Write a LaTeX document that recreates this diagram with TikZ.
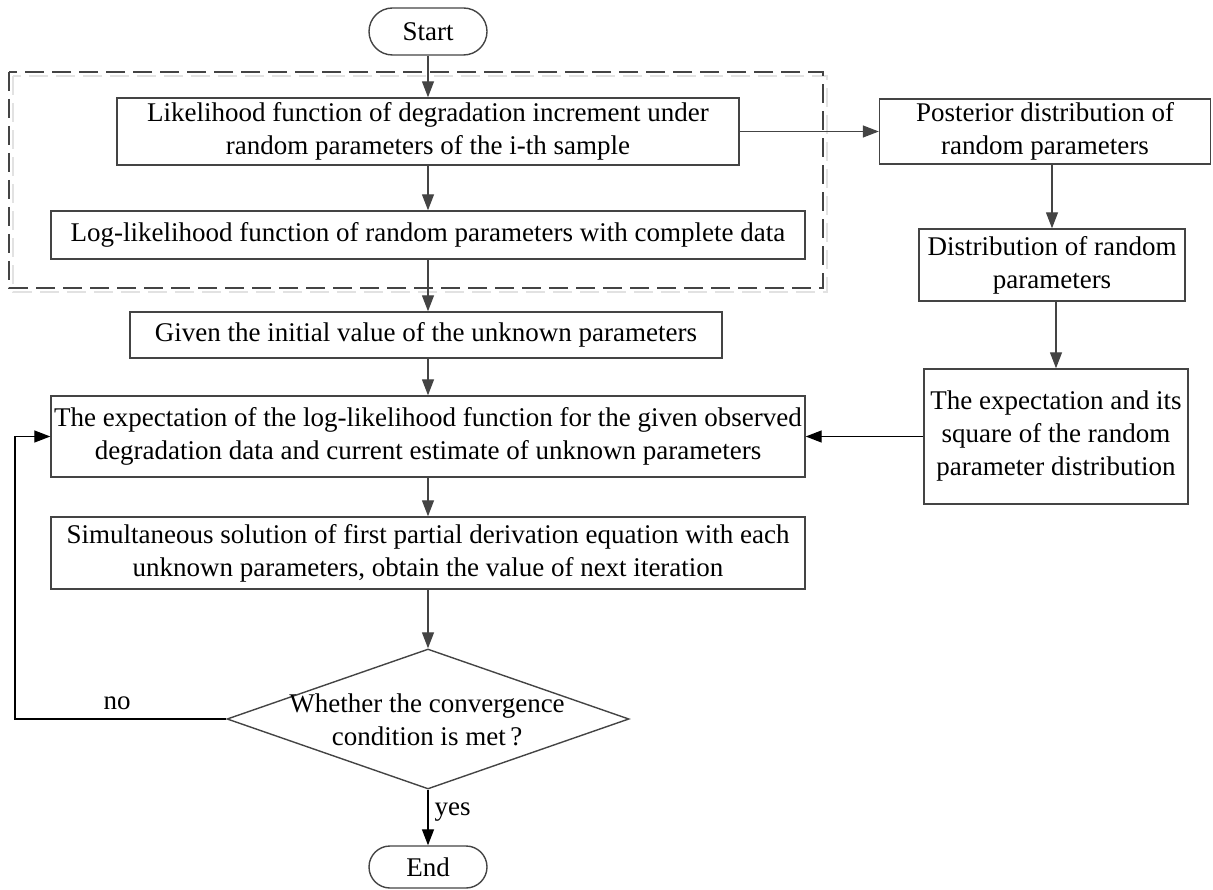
\documentclass[tikz,border=0pt]{standalone}
\usepackage{fontspec}
\setmainfont{Liberation Serif}
\usetikzlibrary{arrows.meta,shapes.geometric,shapes.misc}
\definecolor{edge}{HTML}{444444}
\definecolor{shadowgray}{HTML}{E2E2E2}
\begin{document}
\begin{tikzpicture}[x=1pt,y=-1pt,
  every node/.style={font=\fontsize{27}{33}\selectfont, text=black},
  box/.style={draw=edge, line width=1.4pt, rectangle, inner sep=0pt, align=center},
  term/.style={draw=edge, line width=1.4pt, rounded rectangle, inner sep=0pt, minimum width=118pt},
  dec/.style={draw=edge, line width=1.4pt, diamond, inner sep=0pt},
  link/.style={draw=edge, line width=1.3pt, -{Triangle[length=16pt,width=12pt]}},
  loopline/.style={draw=black, line width=1.3pt, -{Triangle[length=16pt,width=12pt]}},
  lbl/.style={font=\fontsize{27}{33}\selectfont}
]
\useasboundingbox (0,0) rectangle (1213,890);
% dashed group with soft shadow
\draw[shadowgray, line width=2.6pt, dash pattern=on 19pt off 8pt] (13,76) rectangle (827,292);
\draw[edge, line width=2.6pt, dash pattern=on 19pt off 8pt] (9,72) rectangle (823,288);

\node[term, minimum height=47pt] (start) at (428,31.5) {Start};
\node[box, minimum width=622pt, minimum height=67pt] (b1) at (428,131.5) {Likelihood function of degradation increment under\\random parameters of the i-th sample};
\node[box, minimum width=754pt, minimum height=48pt] (b2) at (428,235) {Log-likelihood function of random parameters with complete data};
\node[box, minimum width=592pt, minimum height=46pt] (b3) at (426,335) {Given the initial value of the unknown parameters};
\node[box, minimum width=754pt, minimum height=81pt] (b4) at (428,436.5) {The expectation of the log-likelihood function for the given observed\\degradation data and current estimate of unknown parameters};
\node[box, minimum width=754pt, minimum height=72pt] (b5) at (428,553) {Simultaneous solution of first partial derivation equation with each\\unknown parameters, obtain the value of next iteration};
\node[dec, minimum width=402pt, minimum height=140pt] (dia) at (428,719) {};
\node[align=center, inner sep=0pt] (diat) at (427,720) {Whether the convergence\\condition is met\,?};
\node[term, minimum height=42pt] (end) at (428,867) {End};

\node[box, minimum width=331pt, minimum height=65pt] (p1) at (1045,131.5) {Posterior distribution of\\random parameters};
\node[box, minimum width=266pt, minimum height=72pt] (p2) at (1052,265) {Distribution of random\\parameters};
\node[box, minimum width=264pt, minimum height=135pt] (p3) at (1056,436.5) {The expectation and its\\square of the random\\parameter distribution};

\coordinate (lc) at (15,719);
\coordinate (lt) at (15,436.5);

\draw[link] (start.south -| b1.north) -- (b1.north);
\draw[link] (b1) -- (b2);
\draw[link] (b2) -- (b3.north -| b2.south);
\draw[link] (b3.south -| b4.north) -- (b4.north);
\draw[link] (b4) -- (b5);
\draw[link] (b5) -- (dia);
\draw[loopline] (dia.south) -- node[lbl, right, inner sep=6pt, pos=0.4] (yes) {yes} (end.north);
\draw[loopline] (dia.west) -- (lc) -- (lt) -- (b4.west);
\node[lbl] (no) at (117,703) {no};
\draw[link] (b1.east) -- (p1.west |- b1.east);
\draw[link] (p2.north |- p1.south) -- (p2.north);
\draw[link] (p3.north |- p2.south) -- (p3.north);
\draw[loopline] (p3.west) -- (b4.east);
\end{tikzpicture}
\end{document}
